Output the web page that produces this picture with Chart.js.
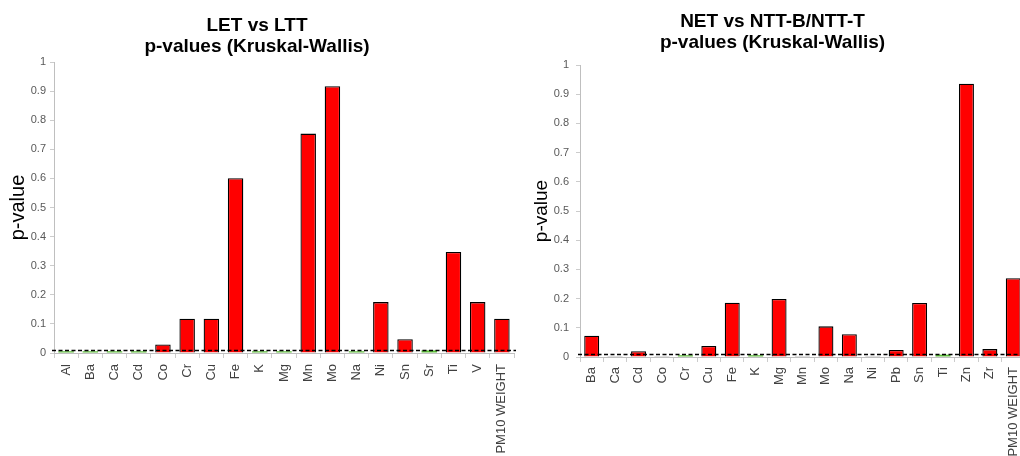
<!DOCTYPE html>
<html>
<head>
<meta charset="utf-8">
<script src="https://cdn.jsdelivr.net/npm/chart.js@4/dist/chart.umd.min.js"></script>
<style>
  html, body { margin: 0; padding: 0; background: #fff; width: 1020px; height: 456px; overflow: hidden; }
  .panel { position: absolute; top: 0; height: 456px; }
  #leftPanel { left: 0; width: 520px; }
  #rightPanel { left: 520px; width: 520px; }
</style>
</head>
<body>
<div class="panel" id="leftPanel"><canvas id="leftChart" width="520" height="456"></canvas></div>
<div class="panel" id="rightPanel"><canvas id="rightChart" width="520" height="456"></canvas></div>
<script>
// Kruskal-Wallis p-values per element, two group comparisons
const leftTitle = ['LET vs LTT', 'p-values (Kruskal-Wallis)'];
const leftCategories = ['Al', 'Ba', 'Ca', 'Cd', 'Co', 'Cr', 'Cu', 'Fe', 'K', 'Mg', 'Mn', 'Mo', 'Na', 'Ni', 'Sn', 'Sr', 'Ti', 'V', 'PM10 WEIGHT'];
const leftPValues = [0.006, 0.006, 0.006, 0.006, 0.029, 0.118, 0.118, 0.601, 0.006, 0.006, 0.754, 0.917, 0.006, 0.175, 0.047, 0.009, 0.347, 0.175, 0.118];

const rightTitle = ['NET vs NTT-B/NTT-T', 'p-values (Kruskal-Wallis)'];
const rightCategories = ['Ba', 'Ca', 'Cd', 'Co', 'Cr', 'Cu', 'Fe', 'K', 'Mg', 'Mn', 'Mo', 'Na', 'Ni', 'Pb', 'Sn', 'Ti', 'Zn', 'Zr', 'PM10 WEIGHT'];
const rightPValues = [0.073, 0.003, 0.020, 0.003, 0.006, 0.038, 0.186, 0.006, 0.199, 0.003, 0.105, 0.078, 0.003, 0.024, 0.185, 0.008, 0.936, 0.027, 0.270];

const yTickLabels = ['0', '0.1', '0.2', '0.3', '0.4', '0.5', '0.6', '0.7', '0.8', '0.9', '1'];
const yAxisLabel = 'p-value';
const significanceLevel = 0.01;

const FONT = "'Liberation Sans', Arial, sans-serif";

// Bars below the significance level are green; values that are practically zero are grey
function fillFor(v) {
  if (v >= significanceLevel) return '#ff0000';
  if (v < 0.004) return '#a6a6a6';
  return '#5cbf3a';
}
function borderFor(v) {
  return v >= significanceLevel ? 1.3 : 0;
}

// Dashed horizontal line at the significance level
const thresholdLine = {
  id: 'thresholdLine',
  afterDatasetsDraw(chart) {
    const { ctx, chartArea, scales } = chart;
    const y = Math.round(scales.y.getPixelForValue(significanceLevel)) + 0.5;
    ctx.save();
    ctx.strokeStyle = '#000';
    ctx.lineWidth = 1.5;
    ctx.setLineDash([4, 2.5]);
    ctx.beginPath();
    ctx.moveTo(chartArea.left - 2, y);
    ctx.lineTo(chartArea.right + 2, y);
    ctx.stroke();
    ctx.restore();
  }
};

function buildChart(canvasId, cfg) {
  const values = cfg.values;
  return new Chart(document.getElementById(canvasId), {
    type: 'bar',
    data: {
      labels: cfg.categories,
      datasets: [{
        data: values,
        backgroundColor: values.map(fillFor),
        borderColor: '#000',
        borderWidth: values.map(borderFor),
        borderSkipped: 'bottom',
        inflateAmount: 0,
        barPercentage: 0.64,
        categoryPercentage: 1.0
      }]
    },
    plugins: [thresholdLine],
    options: {
      responsive: false,
      animation: false,
      events: [],
      layout: { padding: { left: 0, right: cfg.padRight, top: 0, bottom: 0 } },
      plugins: {
        legend: { display: false },
        tooltip: { enabled: false },
        title: {
          display: true,
          text: cfg.title,
          color: '#000',
          font: { family: FONT, size: 19, weight: 'bold', lineHeight: 1.08 },
          padding: { top: cfg.titleTop, bottom: cfg.titleBottom }
        }
      },
      scales: {
        x: {
          offset: true,
          border: { display: true, color: '#bfbfbf', width: 1 },
          grid: { display: true, offset: true, drawOnChartArea: false, drawTicks: true, tickLength: 5, color: '#cccccc' },
          ticks: {
            autoSkip: false, minRotation: 90, maxRotation: 90,
            padding: cfg.xLabelPad,
            color: '#404040',
            font: { family: FONT, size: 13 }
          },
          afterFit(scale) {
            scale.height = cfg.xHeight;
            scale.paddingLeft = 0;
            scale.paddingRight = 0;
          }
        },
        y: {
          min: 0, max: 1,
          border: { display: true, color: '#bfbfbf', width: 1 },
          grid: { display: true, drawOnChartArea: false, drawTicks: true, tickLength: 4, color: '#cccccc' },
          ticks: {
            stepSize: 0.1,
            padding: cfg.yLabelPad,
            color: '#595959',
            font: { family: FONT, size: 11 },
            callback: (v, i) => yTickLabels[i]
          },
          title: {
            display: true,
            text: yAxisLabel,
            color: '#000',
            font: { family: FONT, size: cfg.yTitleSize },
            padding: { top: cfg.yTitlePad, bottom: 0 }
          },
          afterFit(scale) {
            scale.width = cfg.yWidth;
            scale.paddingTop = 0;
            scale.paddingBottom = 0;
          }
        }
      }
    }
  });
}

buildChart('leftChart', {
  title: leftTitle, categories: leftCategories, values: leftPValues,
  padRight: 6, titleTop: 16, titleBottom: 5,
  xHeight: 103, xLabelPad: 6, yWidth: 54, yLabelPad: 4,
  yTitleSize: 20, yTitlePad: 6
});

buildChart('rightChart', {
  title: rightTitle, categories: rightCategories, values: rightPValues,
  padRight: 15, titleTop: 12, titleBottom: 12,
  xHeight: 99, xLabelPad: 5, yWidth: 60, yLabelPad: 7,
  yTitleSize: 19, yTitlePad: 10.6
});
</script>
</body>
</html>
